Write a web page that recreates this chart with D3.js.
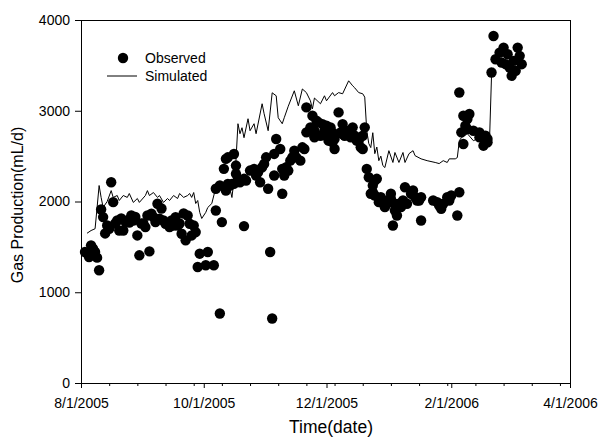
<!DOCTYPE html>
<html>
<head>
<meta charset="utf-8">
<script src="https://cdn.jsdelivr.net/npm/d3@7/dist/d3.min.js"></script>
<style>
  html, body { margin: 0; padding: 0; background: #fff; }
  svg { display: block; font-family: Arial, "Liberation Sans", Helvetica, sans-serif; }
</style>
</head>
<body>
<svg id="chart" width="600" height="443"></svg>
<script>
// Days counted from 8/1/2005
const obsDay = [2,3,4,5,6,7,8,9,10,11,12,13,14,15,16,17,18,19,20,21,22,23,24,25,26,27,28,29,30,31,32,33,34,35,36,37,38,39,40,41,42,43,44,45,46,47,48,49,50,51,52,53,54,55,56,57,58,59,62,63,66,67,67,69,69,70,71,72,72,73,73,74,75,76,76,77,77,78,79,81,81,82,84,86,87,88,89,90,91,92,93,94,95,96,96,97,99,100,100,101,101,102,103,104,105,106,107,109,110,111,112,112,114,115,115,116,116,117,118,119,120,121,122,122,123,124,125,125,126,126,128,129,130,130,131,133,134,135,136,137,138,139,140,140,141,142,143,144,145,145,146,146,147,148,149,150,151,152,153,154,154,155,156,156,157,158,159,160,161,162,164,165,166,167,168,169,169,175,177,178,179,180,182,183,184,187,188,188,189,190,190,191,192,192,193,195,198,198,200,201,202,202,204,205,206,208,209,210,211,212,213,214,215,216,217,218,219];
const obsGas = [1443,1430,1388,1517,1480,1443,1381,1242,1912,1828,1648,1736,1700,2212,1993,1758,1791,1681,1813,1681,1780,1791,1769,1846,1791,1830,1626,1407,1758,1758,1718,1846,1450,1865,1828,1773,1975,1810,1923,1791,1755,1758,1718,1791,1736,1828,1736,1758,1645,1868,1572,1846,1755,1626,1736,1663,1278,1425,1297,1443,1297,1901,2140,766,2176,1773,2360,2121,2470,2194,2487,2176,2194,2523,2194,2396,2305,2250,2212,2250,1729,2231,2341,2360,2286,2322,2212,2377,2414,2487,2140,1443,711,2286,2524,2689,2579,2360,2085,2322,2286,2377,2341,2450,2487,2560,2487,2450,2597,2579,3037,2762,2817,2945,2762,2780,2707,2890,2872,2725,2853,2780,2835,2725,2670,2817,2652,2762,2579,2689,2982,2762,2853,2743,2725,2780,2707,2817,2725,2670,2670,2597,2725,2579,2817,2359,2267,2085,2176,2102,2231,2066,2250,1993,2047,2011,1938,1975,2011,2085,2030,1736,1975,1901,1846,1975,1938,2011,2157,1975,2085,2121,2047,2011,2011,1791,2047,2011,1993,1956,1920,1975,2047,2011,2066,1846,2102,3201,2762,2634,2945,2835,2909,2798,2964,2780,2762,2707,2615,2725,2652,2689,3421,3824,3568,3641,3531,3696,3513,3623,3476,3385,3550,3440,3696,3605,3513];

const simDay = [3,5,7,8,9,10,11,13,15,16,18,19,21,23,24,26,28,29,32,33,34,36,38,39,41,43,44,46,48,49,51,53,54,55,56,57,58,59,60,62,63,65,67,68,69,70,71,72,74,75,76,77,78,79,80,81,83,84,86,87,90,91,93,95,97,98,100,101,103,106,108,110,112,114,115,116,119,121,122,125,126,128,130,133,135,136,138,140,141,142,143,144,145,146,147,148,149,150,151,153,155,156,158,160,161,163,165,166,169,172,176,178,180,182,183,186,187,188,189,192,195,198,202,203,204,205];
const simGas = [1650,1680,1700,1935,2176,2045,1935,2000,2120,2045,2066,2011,2066,2045,2088,1990,2033,1990,2066,2120,2066,2099,2045,2066,1990,2033,2011,2066,2033,2088,2045,2066,2088,2045,2099,1978,2011,1880,1813,1880,1934,1978,2154,2099,2209,2176,2099,2198,2143,2044,2231,2450,2857,2747,2813,2703,2912,2780,2857,2747,3077,2967,2780,3198,3165,2923,2857,2923,3050,3220,3055,3240,3200,3110,3020,3140,3077,3165,3110,3200,3165,3200,3187,3330,3275,3253,3200,3187,3150,2780,2640,2594,2758,2527,2600,2450,2500,2396,2374,2560,2430,2540,2430,2540,2430,2527,2560,2505,2470,2450,2430,2418,2450,2430,2470,2470,2484,2670,2703,2747,2670,2703,2692,2670,3385,3473];

const yTicks = [0, 1000, 2000, 3000, 4000];
const xTickLabels = ["8/1/2005", "10/1/2005", "12/1/2005", "2/1/2006", "4/1/2006"];
const seriesNames = ["Observed", "Simulated"];

const parseDate = d3.timeParse("%-m/%-d/%Y");
const start = parseDate(xTickLabels[0]);
const end = parseDate(xTickLabels[xTickLabels.length - 1]);
const dayToDate = d => d3.timeDay.offset(start, d);

const L = 81, R = 570, T = 20, B = 383;
const svg = d3.select("#chart");

const x = d3.scaleTime().domain([start, end]).range([L, R]);
const y = d3.scaleLinear().domain([0, 4000]).range([B, T]);

// frame: top and right edges
svg.append("line").attr("x1", L).attr("x2", R).attr("y1", T + 0.5).attr("y2", T + 0.5)
  .attr("stroke", "#000").attr("stroke-width", 1);
svg.append("line").attr("x1", R + 0.5).attr("x2", R + 0.5).attr("y1", T).attr("y2", B)
  .attr("stroke", "#000").attr("stroke-width", 1);

// minor x ticks every two weeks
const minorDates = d3.range(14, 243, 14).map(dayToDate);
svg.append("g").attr("transform", `translate(0,${B})`)
  .call(d3.axisBottom(x).tickValues(minorDates).tickSize(3).tickSizeOuter(0).tickFormat(""))
  .call(g => g.select(".domain").remove());

// major x axis
const fmt = d3.timeFormat("%-m/%-d/%Y");
const xAxis = svg.append("g").attr("transform", `translate(0,${B})`)
  .call(d3.axisBottom(x).tickValues(xTickLabels.map(parseDate)).tickFormat(fmt)
    .tickSize(5).tickSizeOuter(0).tickPadding(10));
xAxis.selectAll("text").attr("font-size", 14).attr("fill", "#000")
  .attr("font-family", "Arial, 'Liberation Sans', sans-serif");

// y axis
const yAxis = svg.append("g").attr("transform", `translate(${L},0)`)
  .call(d3.axisLeft(y).tickValues(yTicks).tickFormat(d3.format("d"))
    .tickSize(6).tickSizeOuter(0).tickPadding(5));
yAxis.selectAll("text").attr("font-size", 14).attr("fill", "#000")
  .attr("font-family", "Arial, 'Liberation Sans', sans-serif");

// axis titles
svg.append("text").attr("x", 331).attr("y", 433).attr("text-anchor", "middle")
  .attr("font-size", 17.5).text("Time(date)");
svg.append("text").attr("transform", "translate(23,205) rotate(-90)")
  .attr("text-anchor", "middle").attr("font-size", 16).text("Gas Production(mL/d)");

// simulated line
const line = d3.line().x((d, i) => x(dayToDate(simDay[i]))).y((d, i) => y(simGas[i]));
svg.append("path").datum(simGas).attr("d", line)
  .attr("fill", "none").attr("stroke", "#000").attr("stroke-width", 1);

// observed points
svg.append("g").selectAll("circle").data(obsGas).join("circle")
  .attr("cx", (d, i) => x(dayToDate(obsDay[i])))
  .attr("cy", d => y(d))
  .attr("r", 5.2).attr("fill", "#000");

// legend
const lg = svg.append("g");
lg.append("circle").attr("cx", 123).attr("cy", 58).attr("r", 5.2).attr("fill", "#000");
lg.append("text").attr("x", 145).attr("y", 58).attr("dy", "0.35em").attr("font-size", 14)
  .text(seriesNames[0]);
lg.append("line").attr("x1", 107).attr("x2", 137).attr("y1", 76).attr("y2", 76)
  .attr("stroke", "#000").attr("stroke-width", 1);
lg.append("text").attr("x", 145).attr("y", 76).attr("dy", "0.35em").attr("font-size", 14)
  .text(seriesNames[1]);
</script>
</body>
</html>
